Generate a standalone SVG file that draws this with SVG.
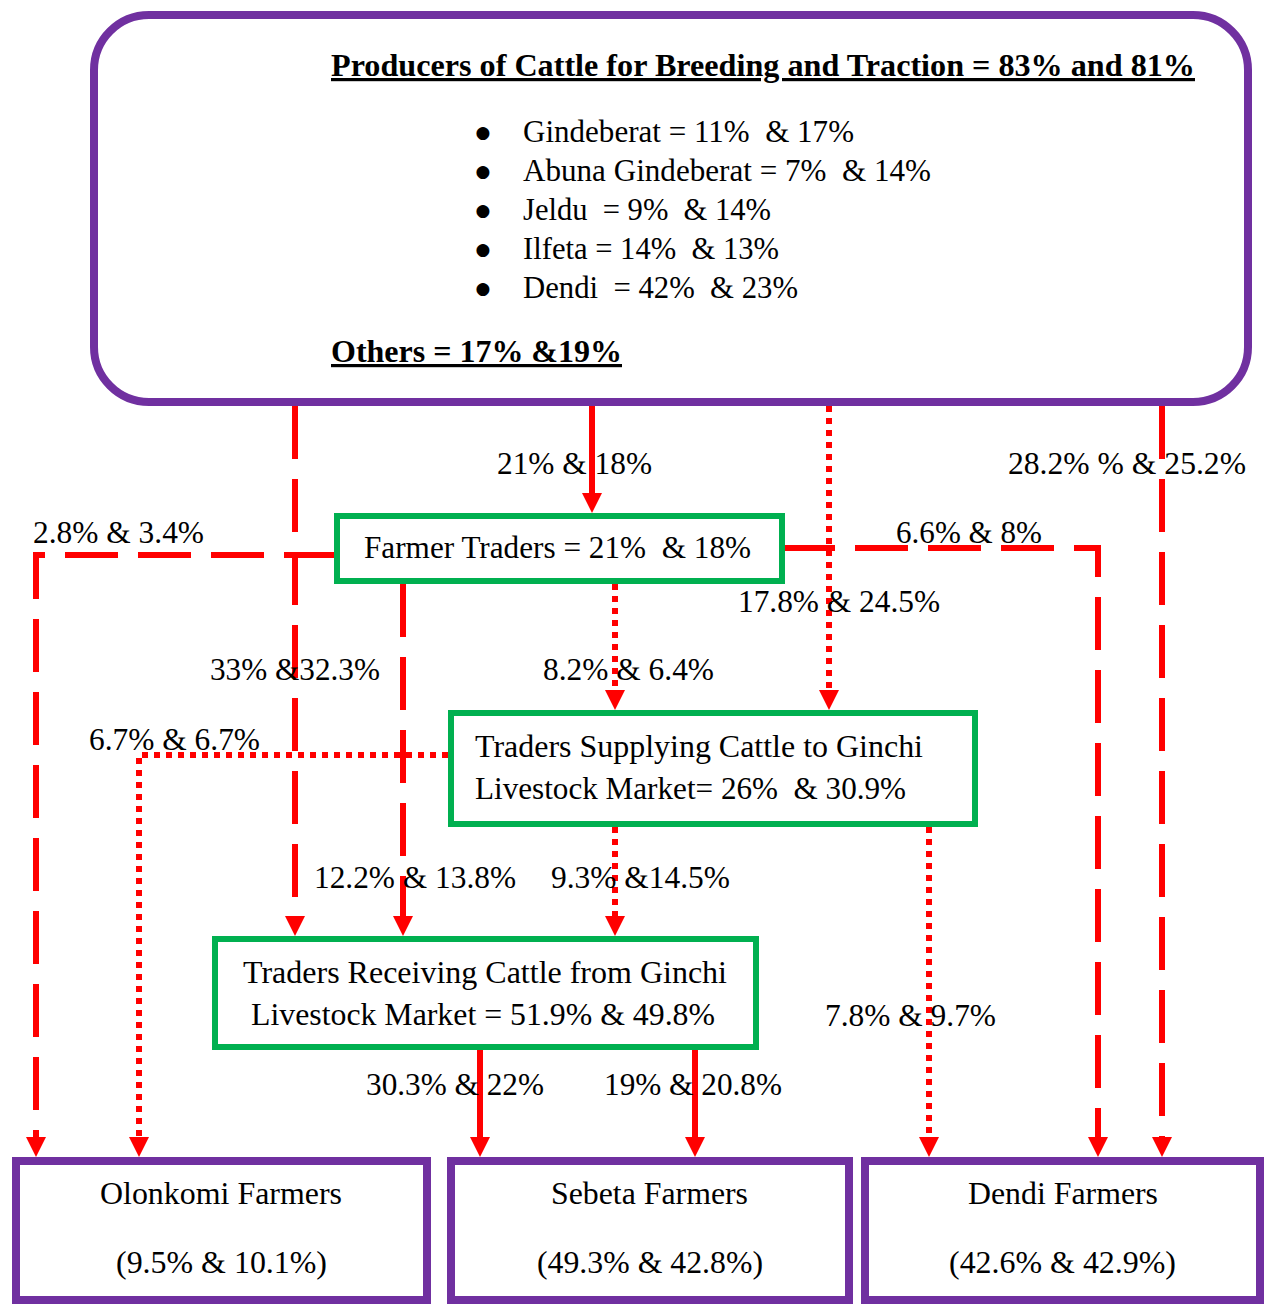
<svg xmlns="http://www.w3.org/2000/svg" width="1271" height="1304" viewBox="0 0 1271 1304" font-family="'Liberation Serif', 'Times New Roman', Tinos, serif">
<defs>
<style>
text{font-family:'Liberation Serif','Times New Roman',Tinos,serif;font-size:32px;fill:#000}
.b{font-weight:bold;text-decoration:underline;font-size:32px}
.bul{font-family:'DejaVu Sans',sans-serif;font-size:17px;text-anchor:middle}
.m{text-anchor:middle}
.purple{fill:#fff;stroke:#7030A0;stroke-width:8}
.green{fill:#fff;stroke:#00B050;stroke-width:6}
.c{fill:none;stroke:#FF0000;stroke-width:6}
.dash{stroke-dasharray:53 20}
.dot{stroke-dasharray:6 6}
</style>
<marker id="ah" markerUnits="userSpaceOnUse" markerWidth="20" markerHeight="20" viewBox="0 -10 20 20" refX="0" refY="0" orient="auto">
<path d="M0,-10 L20,0 L0,10 z" fill="#FF0000"/>
</marker>
</defs>
<rect width="1271" height="1304" fill="#fff"/>

<g id="producers">
<rect class="purple" x="94" y="15" width="1154" height="387" rx="55" ry="55"/>
<text class="b" x="331" y="76" textLength="864" lengthAdjust="spacingAndGlyphs">Producers of Cattle for Breeding and Traction = 83% and 81%</text>
<text class="bul" x="483" y="138">●</text>
<text class="bul" x="483" y="177">●</text>
<text class="bul" x="483" y="216">●</text>
<text class="bul" x="483" y="255">●</text>
<text class="bul" x="483" y="294">●</text>
<text x="523" y="142" textLength="331" lengthAdjust="spacingAndGlyphs" xml:space="preserve">Gindeberat = 11%  &amp; 17%</text>
<text x="523" y="181" textLength="408" lengthAdjust="spacingAndGlyphs" xml:space="preserve">Abuna Gindeberat = 7%  &amp; 14%</text>
<text x="523" y="220" textLength="248" lengthAdjust="spacingAndGlyphs" xml:space="preserve">Jeldu  = 9%  &amp; 14%</text>
<text x="523" y="259" textLength="256" lengthAdjust="spacingAndGlyphs" xml:space="preserve">Ilfeta = 14%  &amp; 13%</text>
<text x="523" y="298" textLength="275" lengthAdjust="spacingAndGlyphs" xml:space="preserve">Dendi  = 42%  &amp; 23%</text>
<text class="b" x="331" y="362" textLength="291" lengthAdjust="spacingAndGlyphs">Others = 17% &amp;19%</text>
</g>

<g id="connectors">
<path class="c" d="M592,406 V493" marker-end="url(#ah)"/>
<path class="c dash" d="M295,406 V916" marker-end="url(#ah)"/>
<path class="c dot" d="M829,406 V690" marker-end="url(#ah)"/>
<path class="c dash" d="M1162,406 V1137" marker-end="url(#ah)"/>
<path class="c dash" d="M337,555 H36 V1137" marker-end="url(#ah)"/>
<path class="c dash" d="M782,548 H1098 V1137" marker-end="url(#ah)"/>
<path class="c dash" d="M403,584 V916" marker-end="url(#ah)"/>
<path class="c dot" d="M615,584 V690" marker-end="url(#ah)"/>
<path class="c dot" d="M448,755 H139 V1137" marker-end="url(#ah)"/>
<path class="c dot" d="M615,827 V916" marker-end="url(#ah)"/>
<path class="c dot" d="M929,827 V1137" marker-end="url(#ah)"/>
<path class="c" d="M480,1050 V1137" marker-end="url(#ah)"/>
<path class="c" d="M695,1050 V1137" marker-end="url(#ah)"/>
</g>

<g id="labels">
<text x="497" y="474" textLength="155" lengthAdjust="spacingAndGlyphs">21% &amp; 18%</text>
<text x="1008" y="474" textLength="238" lengthAdjust="spacingAndGlyphs">28.2% % &amp; 25.2%</text>
<text x="33" y="543" textLength="171" lengthAdjust="spacingAndGlyphs">2.8% &amp; 3.4%</text>
<text x="896" y="543" textLength="146" lengthAdjust="spacingAndGlyphs">6.6% &amp; 8%</text>
<text x="738" y="612" textLength="202" lengthAdjust="spacingAndGlyphs">17.8% &amp; 24.5%</text>
<text x="210" y="680" textLength="170" lengthAdjust="spacingAndGlyphs">33% &amp;32.3%</text>
<text x="543" y="680" textLength="171" lengthAdjust="spacingAndGlyphs">8.2% &amp; 6.4%</text>
<text x="89" y="750" textLength="171" lengthAdjust="spacingAndGlyphs">6.7% &amp; 6.7%</text>
<text x="314" y="888" textLength="202" lengthAdjust="spacingAndGlyphs">12.2% &amp; 13.8%</text>
<text x="551" y="888" textLength="179" lengthAdjust="spacingAndGlyphs">9.3% &amp;14.5%</text>
<text x="825" y="1026" textLength="171" lengthAdjust="spacingAndGlyphs">7.8% &amp; 9.7%</text>
<text x="366" y="1095" textLength="178" lengthAdjust="spacingAndGlyphs">30.3% &amp; 22%</text>
<text x="604" y="1095" textLength="178" lengthAdjust="spacingAndGlyphs">19% &amp; 20.8%</text>
</g>

<g id="farmer-traders">
<rect class="green" x="337" y="516" width="445" height="65"/>
<text x="364" y="558" textLength="387" lengthAdjust="spacingAndGlyphs" xml:space="preserve">Farmer Traders = 21%  &amp; 18%</text>
</g>

<g id="traders-supplying">
<rect class="green" x="451" y="713" width="524" height="111"/>
<text x="475" y="757" textLength="448" lengthAdjust="spacingAndGlyphs">Traders Supplying Cattle to Ginchi</text>
<text x="475" y="799" textLength="431" lengthAdjust="spacingAndGlyphs" xml:space="preserve">Livestock Market= 26%  &amp; 30.9%</text>
</g>

<g id="traders-receiving">
<rect class="green" x="215" y="939" width="541" height="108"/>
<text x="243" y="983" textLength="484" lengthAdjust="spacingAndGlyphs">Traders Receiving Cattle from Ginchi</text>
<text x="251" y="1025" textLength="464" lengthAdjust="spacingAndGlyphs">Livestock Market = 51.9% &amp; 49.8%</text>
</g>

<g id="olonkomi">
<rect class="purple" x="16" y="1161" width="411" height="139"/>
<text x="100" y="1204" textLength="242" lengthAdjust="spacingAndGlyphs">Olonkomi Farmers</text>
<text x="116" y="1273" textLength="211" lengthAdjust="spacingAndGlyphs">(9.5% &amp; 10.1%)</text>
</g>

<g id="sebeta">
<rect class="purple" x="451" y="1161" width="398" height="139"/>
<text x="551" y="1204" textLength="197" lengthAdjust="spacingAndGlyphs">Sebeta Farmers</text>
<text x="537" y="1273" textLength="226" lengthAdjust="spacingAndGlyphs">(49.3% &amp; 42.8%)</text>
</g>

<g id="dendi">
<rect class="purple" x="865" y="1161" width="395" height="139"/>
<text x="968" y="1204" textLength="190" lengthAdjust="spacingAndGlyphs">Dendi Farmers</text>
<text x="949" y="1273" textLength="227" lengthAdjust="spacingAndGlyphs">(42.6% &amp; 42.9%)</text>
</g>
</svg>
